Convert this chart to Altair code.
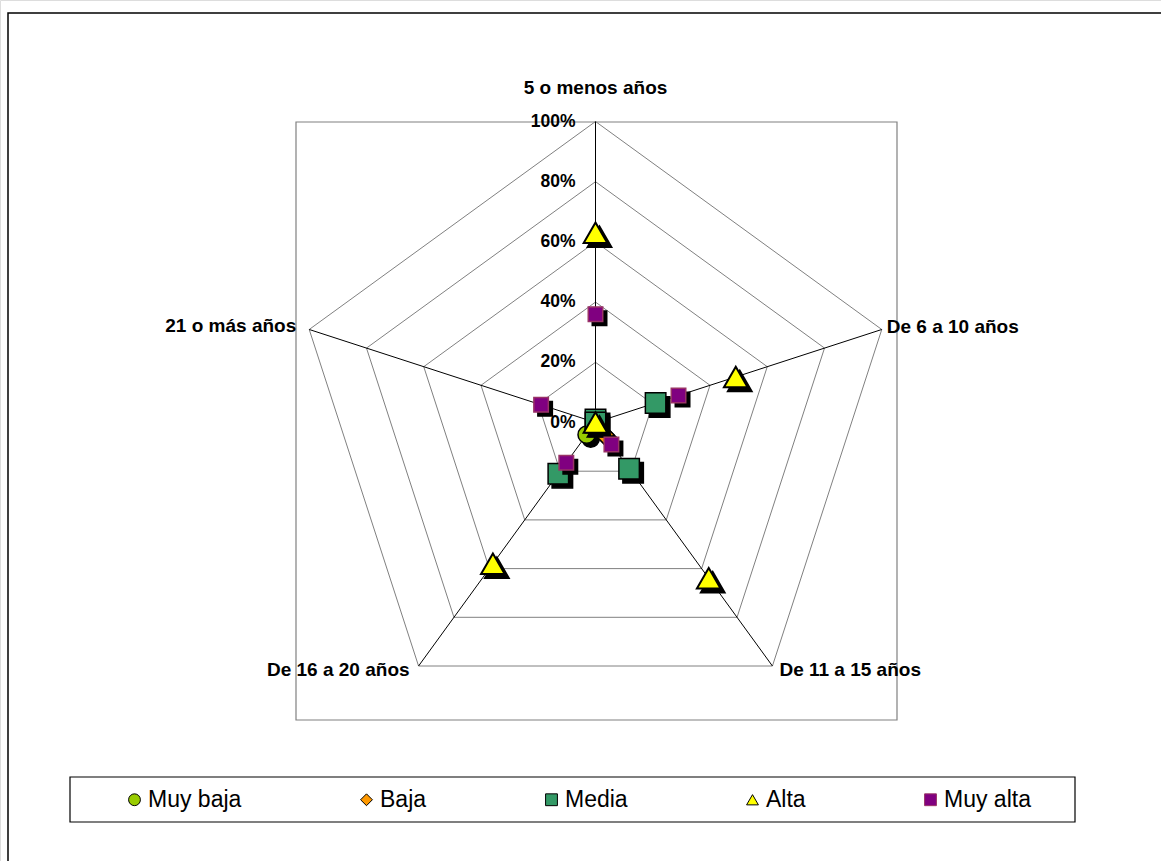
import altair as alt
import pandas as pd

# Age groups (radar axes, clockwise from the top) and rating levels (series)
edades = ["5 o menos años", "De 6 a 10 años", "De 11 a 15 años",
          "De 16 a 20 años", "21 o más años"]
series = ["Muy baja", "Baja", "Media", "Alta", "Muy alta"]

# Share of each level within every age group
muy_baja = [0.00, 0.00, 0.00, 0.05, 0.00]
baja = [0.00, 0.00, 0.05, 0.00, 0.00]
media = [0.01, 0.21, 0.19, 0.21, 0.00]
alta = [0.63, 0.49, 0.64, 0.58, 0.00]
muy_alta = [0.36, 0.29, 0.09, 0.165, 0.19]

# Radial grid levels and their labels
niveles = [0.0, 0.2, 0.4, 0.6, 0.8, 1.0]
etiquetas_pct = ["0%", "20%", "40%", "60%", "80%", "100%"]

# Marker styling per series
rellenos = ["#99CC00", "#FF9900", "#339966", "#FFFF00", "#800080"]
bordes = ["#000000", "#000000", "#000000", "#000000", "#993366"]
formas = ["circle", "diamond", "square", "triangle-up", "square"]
tamanos = [300, 360, 420, 560, 210]
grosores = [1.5, 1.5, 1.5, 2.0, 1.5]

W, H = 1161, 861
CX, CY, R = 595.5, 422.5, 301.0
FONT = "Liberation Sans"

xs = alt.Scale(domain=[-CX / R, (W - CX) / R], nice=False, zero=False)
ys = alt.Scale(domain=[-(H - CY) / R, CY / R], nice=False, zero=False)

ANG = "datum.k * 2 * PI / 5"

filas = []
for s, vals in zip(series, [muy_baja, baja, media, alta, muy_alta]):
    for k, (e, v) in enumerate(zip(edades, vals)):
        filas.append({"serie": s, "edad": e, "k": k, "valor": v})
puntos = pd.DataFrame(filas)

anillos = pd.DataFrame(
    [{"nivel": n, "k": k} for n in niveles[1:] for k in range(6)]
)
ejes = pd.DataFrame({"edad": edades, "k": list(range(len(edades)))})
pct = pd.DataFrame({"nivel": niveles, "texto": etiquetas_pct})


def polar(chart, campo):
    return chart.transform_calculate(
        x=f"datum.{campo} * sin({ANG})",
        y=f"datum.{campo} * cos({ANG})",
    )


# Outer chart frame, plot-area frame and legend box
marco = alt.Chart(pd.DataFrame({"a": [0]})).mark_rect(
    fill=None, stroke="#000000", strokeWidth=1.5
).encode(x=alt.value(8), x2=alt.value(1190), y=alt.value(13), y2=alt.value(900))

marco_area = alt.Chart(pd.DataFrame({"a": [0]})).mark_rect(
    fill=None, stroke="#808080", strokeWidth=1.2
).encode(x=alt.value(296), x2=alt.value(897), y=alt.value(122), y2=alt.value(720))

marco_leyenda = alt.Chart(pd.DataFrame({"a": [0]})).mark_rect(
    fill=None, stroke="#000000", strokeWidth=1.2
).encode(x=alt.value(70), x2=alt.value(1075), y=alt.value(777), y2=alt.value(822))

# Pentagonal grid rings
rejilla = polar(alt.Chart(anillos), "nivel").mark_line(
    stroke="#808080", strokeWidth=1
).encode(
    x=alt.X("x:Q", scale=xs, axis=None),
    y=alt.Y("y:Q", scale=ys, axis=None),
    detail="nivel:N",
    order="k:Q",
)

# Spokes from the centre to each category
radios = alt.Chart(ejes).transform_calculate(
    x=f"sin({ANG})", y=f"cos({ANG})", x0="0", y0="0"
).mark_rule(stroke="#000000", strokeWidth=1).encode(
    x=alt.X("x0:Q", scale=xs, axis=None),
    y=alt.Y("y0:Q", scale=ys, axis=None),
    x2="x:Q",
    y2="y:Q",
)

# Percentage labels along the vertical axis
texto_pct = alt.Chart(pct).transform_calculate(cero="0").mark_text(
    align="right", baseline="middle", dx=-20, font=FONT, fontSize=17.5,
    fontWeight="bold", color="#000000"
).encode(
    x=alt.X("cero:Q", scale=xs, axis=None),
    y=alt.Y("nivel:Q", scale=ys, axis=None),
    text="texto:N",
)

# Category labels, one layer per placement
colocacion = [
    ("center", 0, -34),
    ("left", 5, -2),
    ("left", 7, 4),
    ("right", -9, 4),
    ("right", -13, -3),
]
capas_cat = []
for k, (al, ddx, ddy) in enumerate(colocacion):
    capas_cat.append(
        alt.Chart(ejes).transform_filter(f"datum.k == {k}").transform_calculate(
            x=f"sin({ANG})", y=f"cos({ANG})"
        ).mark_text(
            align=al, baseline="middle", dx=ddx, dy=ddy, font=FONT,
            fontSize=19, fontWeight="bold", color="#000000"
        ).encode(
            x=alt.X("x:Q", scale=xs, axis=None),
            y=alt.Y("y:Q", scale=ys, axis=None),
            text="edad:N",
        )
    )

leyenda = alt.Legend(
    title=None, orient="none", legendX=123, legendY=788, direction="horizontal",
    columnPadding=113, labelFont=FONT, labelFontSize=23, labelColor="#000000",
    labelOffset=2, symbolSize=140, symbolStrokeWidth=1, symbolOpacity=1,
)

capas_pts = []
for i, s in enumerate(series):
    base = polar(alt.Chart(puntos), "valor").transform_filter(
        alt.datum.serie == s
    )
    sombra = base.mark_point(
        shape=formas[i], size=tamanos[i], filled=True, fill="#000000",
        stroke="#000000", strokeWidth=grosores[i], opacity=1,
        xOffset=4, yOffset=4,
    ).encode(
        x=alt.X("x:Q", scale=xs, axis=None),
        y=alt.Y("y:Q", scale=ys, axis=None),
    )
    marca = base.mark_point(
        size=tamanos[i], filled=True, strokeWidth=grosores[i], opacity=1,
    ).encode(
        x=alt.X("x:Q", scale=xs, axis=None),
        y=alt.Y("y:Q", scale=ys, axis=None),
        fill=alt.Fill("serie:N", scale=alt.Scale(domain=series, range=rellenos),
                      legend=leyenda),
        shape=alt.Shape("serie:N", scale=alt.Scale(domain=series, range=formas),
                        legend=leyenda),
        stroke=alt.Stroke("serie:N", scale=alt.Scale(domain=series, range=bordes),
                          legend=leyenda),
    )
    capas_pts += [sombra, marca]

chart = alt.layer(
    marco, marco_area, marco_leyenda, rejilla, radios, texto_pct,
    *capas_cat, *capas_pts
).properties(
    width=W, height=H, padding=0,
    autosize=alt.AutoSizeParams(type="none"),
).configure_view(stroke=None).configure(background="#FFFFFF")

chart.save("out.html", embed_options={"renderer": "svg", "actions": False})
